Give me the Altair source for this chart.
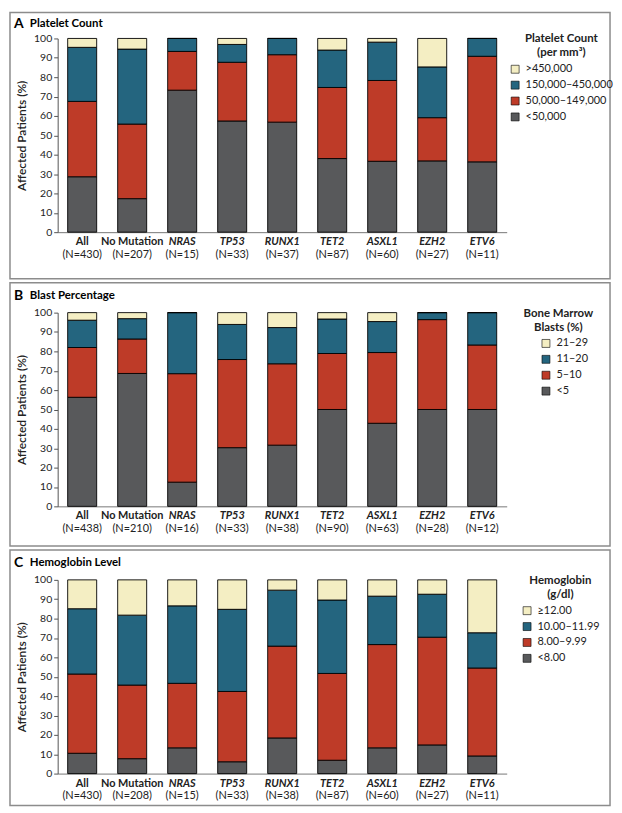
import altair as alt
import pandas as pd

FONT = "Lato"

categories = ["All", "No Mutation", "NRAS", "TP53", "RUNX1", "TET2", "ASXL1", "EZH2", "ETV6"]
italic_flags = [False, False, True, True, True, True, True, True, True]

# Panel A: platelet count (segment percentages, bottom to top)
n_platelet = [430, 207, 15, 33, 37, 87, 60, 27, 11]
plt_levels = ["<50,000", "50,000\u2013149,000", "150,000\u2013450,000", ">450,000"]
plt_lt50 = [28.6, 17.3, 73.3, 57.4, 56.8, 38.0, 36.6, 36.8, 36.3]
plt_50_149 = [38.9, 38.5, 20.0, 30.3, 34.8, 36.7, 41.7, 22.3, 54.5]
plt_150_450 = [27.9, 38.7, 6.7, 9.2, 8.4, 19.3, 19.8, 26.2, 9.2]
plt_gt450 = [4.6, 5.5, 0.0, 3.1, 0.0, 6.0, 1.9, 14.7, 0.0]

# Panel B: bone marrow blasts
n_blast = [438, 210, 16, 33, 38, 90, 63, 28, 12]
blast_levels = ["<5", "5\u201310", "11\u201320", "21\u201329"]
blast_lt5 = [56.3, 68.6, 12.5, 30.3, 31.6, 50.0, 42.9, 50.0, 50.0]
blast_5_10 = [25.7, 17.8, 56.0, 45.5, 42.0, 28.9, 36.5, 46.4, 33.3]
blast_11_20 = [14.1, 10.5, 31.5, 18.1, 18.7, 17.8, 16.0, 3.6, 16.7]
blast_21_29 = [3.9, 3.1, 0.0, 6.1, 7.7, 3.3, 4.6, 0.0, 0.0]

# Panel C: hemoglobin
n_hgb = [430, 208, 15, 33, 38, 87, 60, 27, 11]
hgb_levels = ["<8.00", "8.00\u20139.99", "10.00\u201311.99", "\u226512.00"]
hgb_lt8 = [10.5, 7.7, 13.3, 6.1, 18.4, 6.9, 13.3, 14.8, 9.1]
hgb_8_10 = [40.9, 38.0, 33.3, 36.3, 47.4, 44.8, 53.3, 55.6, 45.4]
hgb_10_12 = [33.7, 36.1, 40.0, 42.4, 28.9, 37.9, 25.0, 22.2, 18.2]
hgb_ge12 = [14.9, 18.2, 13.4, 15.2, 5.3, 10.4, 8.4, 7.4, 27.3]

# colors bottom to top
seg_colors = ["#58595B", "#BE3B28", "#24657F", "#F4EEC3"]

W = 452
H = 195


def panel(letter, title, legend_title, levels, segs, ns, legend_x, sym_off, frame_top, frame_bottom, title_y):
    rows = []
    for i, cat in enumerate(categories):
        for j, lev in enumerate(levels):
            rows.append({"category": cat, "level": lev, "order": j, "value": segs[j][i]})
    df = pd.DataFrame(rows)
    lab = pd.DataFrame({
        "category": categories,
        "italic": italic_flags,
        "ntext": ["(N=%d)" % n for n in ns],
    })
    one = pd.DataFrame({"k": [0]})

    xscale = alt.Scale(type="band", domain=categories, paddingInner=0.42, paddingOuter=0.2)

    frame = alt.Chart(one).mark_rect(fillOpacity=0, stroke="#8c8c8c", strokeWidth=1.5).encode(
        x=alt.value(-48), x2=alt.value(556), y=alt.value(frame_top), y2=alt.value(frame_bottom)
    )
    t_letter = alt.Chart(one).mark_text(
        text=letter, fontSize=14, fontWeight="bold", align="left", baseline="middle", font=FONT
    ).encode(x=alt.value(-44), y=alt.value(title_y))
    t_title = alt.Chart(one).mark_text(
        text=title, fontSize=11.5, fontWeight="bold", align="left", baseline="middle", font=FONT
    ).encode(x=alt.value(-28), y=alt.value(title_y))

    bars = alt.Chart(df).mark_bar(stroke="black", strokeWidth=0.9).encode(
        x=alt.X("category:N", sort=categories, scale=xscale,
                axis=alt.Axis(labels=False, ticks=False, title=None, domainColor="#777", domainWidth=1)),
        y=alt.Y("value:Q", stack="zero", scale=alt.Scale(domain=[0, 100], nice=False),
                axis=alt.Axis(values=list(range(0, 101, 10)), title="Affected Patients (%)",
                              grid=False, tickSize=4, tickColor="#555", domainColor="#555",
                              labelFontSize=10.5, labelColor="#222", labelPadding=2,
                              titleFontSize=12, titleFontWeight=600, titleColor="#222",
                              titlePadding=5, labelFont=FONT, titleFont=FONT)),
        color=alt.Color("level:N",
                        scale=alt.Scale(domain=levels[::-1], range=seg_colors[::-1]),
                        legend=alt.Legend(title=legend_title, orient="none", legendX=legend_x, legendY=-5,
                                          titleFontSize=11.5, titleFontWeight="bold", titleLineHeight=14,
                                          titleAnchor="middle", titleAlign="center", titleColor="#222",
                                          titleFont=FONT, labelFont=FONT, labelFontSize=11, labelColor="#222",
                                          symbolType="square", symbolSize=64, symbolStrokeColor="black",
                                          symbolStrokeWidth=0.6, symbolOpacity=1, rowPadding=4,
                                          symbolOffset=sym_off,
                                          titlePadding=5, padding=0, labelOffset=5)),
        order=alt.Order("order:Q"),
    )

    lab_norm = alt.Chart(lab).transform_filter("!datum.italic").mark_text(
        fontSize=11, fontWeight="bold", baseline="middle", font=FONT, color="#222"
    ).encode(x=alt.X("category:N", sort=categories, scale=xscale), y=alt.value(H + 10), text="category:N")
    lab_ital = alt.Chart(lab).transform_filter("datum.italic").mark_text(
        fontSize=11, fontWeight="bold", fontStyle="italic", baseline="middle", font=FONT, color="#222"
    ).encode(x=alt.X("category:N", sort=categories, scale=xscale), y=alt.value(H + 10), text="category:N")
    lab_n = alt.Chart(lab).mark_text(
        fontSize=11, baseline="middle", font=FONT, color="#222"
    ).encode(x=alt.X("category:N", sort=categories, scale=xscale), y=alt.value(H + 22.5), text="ntext:N")

    return alt.layer(frame, t_letter, t_title, bars, lab_norm, lab_ital, lab_n).properties(width=W, height=H)


pa = panel("A", "Platelet Count", ["Platelet Count", "(per mm\u00b3)"], plt_levels,
           [plt_lt50, plt_50_149, plt_150_450, plt_gt450], n_platelet, 455, 0, -26, 242, -15)
pb = panel("B", "Blast Percentage", ["Bone Marrow", "Blasts (%)"], blast_levels,
           [blast_lt5, blast_5_10, blast_11_20, blast_21_29], n_blast, 469, 11, -30, 235, -17)
pc = panel("C", "Hemoglobin Level", ["Hemoglobin", "(g/dl)"], hgb_levels,
           [hgb_lt8, hgb_8_10, hgb_10_12, hgb_ge12], n_hgb, 467, 0, -30, 227, -17)

chart = alt.vconcat(pa, pb, pc, spacing=0).resolve_scale(color="independent").properties(
    padding=0
).configure(font=FONT).configure_view(stroke="transparent")

chart.save("out.html", embed_options={"renderer": "svg", "actions": False})
